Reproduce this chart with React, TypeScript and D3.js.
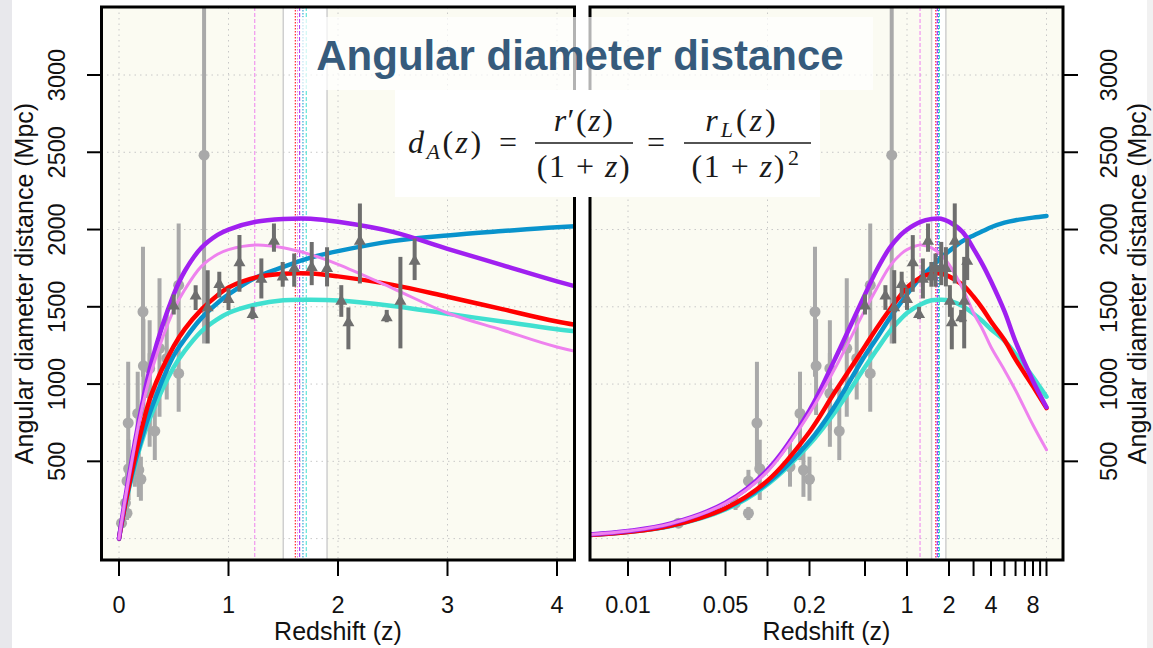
import React from 'react';
import * as d3 from 'd3';

const W = 1153;
const H = 648;

// ---- model curves ----
const zGrid = [0, 0.005, 0.01, 0.02, 0.05, 0.1, 0.2, 0.3, 0.5, 0.6, 0.75, 0.9, 1, 1.25, 1.5, 1.75, 2, 2.5, 3, 3.5, 4, 5, 6, 8, 10];
const dTurquoise = [0, 22, 43, 80, 188, 350, 610, 810, 1110, 1215, 1340, 1420, 1460, 1515, 1542, 1545, 1540, 1505, 1455, 1405, 1355, 1280, 1195, 1045, 918];
const dBlue = [0, 24, 45, 83, 195, 360, 630, 850, 1185, 1290, 1425, 1525, 1580, 1690, 1758, 1818, 1860, 1925, 1962, 1990, 2015, 2045, 2060, 2077, 2088];
const dRed = [0, 22, 42, 82, 197, 375, 690, 940, 1245, 1355, 1480, 1575, 1625, 1690, 1714, 1716, 1697, 1642, 1565, 1485, 1405, 1285, 1160, 985, 845];
const dPurple = [0, 25, 49, 96, 232, 445, 830, 1150, 1580, 1730, 1880, 1965, 2000, 2050, 2068, 2070, 2050, 1985, 1875, 1770, 1665, 1470, 1275, 1020, 850];
const dViolet = [0, 25, 49, 95, 228, 435, 810, 1090, 1480, 1610, 1760, 1840, 1870, 1900, 1882, 1838, 1775, 1620, 1460, 1350, 1240, 1090, 960, 735, 575];

// ---- observations: circles ----
const circZ = [0.023, 0.059, 0.073, 0.073, 0.084, 0.088, 0.145, 0.171, 0.181, 0.2, 0.219, 0.223, 0.28, 0.28, 0.327, 0.37, 0.436, 0.545, 0.545, 0.777];
const circD = [100, 230, 164, 372, 748, 452, 465, 810, 444, 384, 1468, 1118, 1101, 940, 696, 1231, 1166, 1640, 1069, 2481];
const circLo = [88, 185, 120, 320, 443, 250, 336, 508, 270, 245, 1047, 800, 594, 700, 508, 788, 900, 1250, 821, 1263];
const circHi = [112, 280, 205, 445, 1144, 640, 640, 1080, 600, 530, 1888, 1420, 1413, 1200, 982, 1684, 1450, 2039, 1306, 3600];

// ---- observations: triangles ----
const triZ = [0.5, 0.7, 0.81, 0.916, 1.0, 1.1, 1.22, 1.3, 1.415, 1.495, 1.6, 1.76, 1.9, 2.03, 2.095, 2.2, 2.445, 2.57, 2.7];
const triD = [1511, 1576, 1500, 1651, 1554, 1791, 1457, 1684, 1931, 1700, 1755, 1760, 1755, 1543, 1403, 1931, 1435, 1543, 1802];
const triLo = [1450, 1480, 1263, 1560, 1480, 1597, 1420, 1554, 1856, 1630, 1630, 1640, 1632, 1435, 1225, 1651, 1400, 1231, 1673];
const triHi = [1580, 1640, 1737, 1727, 1620, 1964, 1500, 1813, 2039, 1790, 1845, 1920, 1886, 1640, 1496, 2169, 1480, 1823, 1942];

// ---- reference lines ----
const bandZ = [1.5, 1.9];
const markZ = [1.24, 1.61, 1.63, 1.65, 1.68, 1.71];
const markColor = ['#ee82ee', '#ff0000', '#ee82ee', '#a020f0', '#0993cc', '#40e0d0'];
const markDash = ['4,2', '1.5,1.5', '1.5,1.5', '4,2', '1.5,1.5', '4,2'];

// ---- axes ----
const yTicks = [500, 1000, 1500, 2000, 2500, 3000];
const yGrid = [0, 500, 1000, 1500, 2000, 2500, 3000];
const leftTicks = [0, 1, 2, 3, 4];
const rightTicks = [0.01, 0.02, 0.05, 0.1, 0.2, 0.5, 1, 2, 3, 4, 5, 6, 7, 8, 9, 10];
const rightLabels = ['0.01', '0.05', '0.2', '1', '2', '4', '8'];
const rightGrid = [0.01, 0.1, 1, 10];

const seriesDefs = [
  { key: 'turquoise', values: dTurquoise, color: '#40e0d0', width: 4.5 },
  { key: 'blue', values: dBlue, color: '#0993cc', width: 4.5 },
  { key: 'red', values: dRed, color: '#ff0000', width: 4.5 },
  { key: 'purple', values: dPurple, color: '#a020f0', width: 4.5 },
  { key: 'violet', values: dViolet, color: '#ee82ee', width: 3 },
];

const yScale = d3.scaleLinear().domain([0, 3000]).range([538.6, 75]);
const TOP = 7;
const BOTTOM = 560;
const FONT = '"Liberation Sans", Arial, Helvetica, sans-serif';

type Panel = {
  id: string;
  x0: number;
  x1: number;
  xs: (v: number) => number;
  log: boolean;
};

const panels: Panel[] = [
  { id: 'L', x0: 101.5, x1: 574.5, xs: d3.scaleLinear().domain([0, 4]).range([119, 557]), log: false },
  { id: 'R', x0: 590, x1: 1063, xs: d3.scaleLog().domain([0.01, 1]).range([628, 907]), log: true },
];

function PanelView({ p }: { p: Panel }) {
  const xs = p.xs;
  const pts = (vals: number[]) =>
    zGrid.map((z, i) => ({ z, d: vals[i] })).filter((o) => (p.log ? o.z > 0 : true));
  const line = d3
    .line<{ z: number; d: number }>()
    .x((o) => xs(o.z))
    .y((o) => yScale(o.d))
    .curve(d3.curveCatmullRom.alpha(0.5));
  const xGrid = p.log ? rightGrid : leftTicks;
  const clip = `clip${p.id}`;
  const tri = (cx: number, cy: number) => {
    const s = 6;
    return `M${cx},${cy - s}L${cx + s},${cy + s * 0.75}L${cx - s},${cy + s * 0.75}Z`;
  };
  return (
    <g>
      <defs>
        <clipPath id={clip}>
          <rect x={p.x0} y={TOP} width={p.x1 - p.x0} height={BOTTOM - TOP} />
        </clipPath>
      </defs>
      <rect x={p.x0} y={TOP} width={p.x1 - p.x0} height={BOTTOM - TOP} fill="#fbfbf2" />
      <g clipPath={`url(#${clip})`}>
        <rect x={xs(bandZ[0])} y={TOP} width={xs(bandZ[1]) - xs(bandZ[0])} height={BOTTOM - TOP} fill="#ffffff" />
        <line x1={xs(bandZ[0])} x2={xs(bandZ[0])} y1={TOP} y2={BOTTOM} stroke="#cfcfcf" strokeWidth={1.5} />
        <line x1={xs(bandZ[1])} x2={xs(bandZ[1])} y1={TOP} y2={BOTTOM} stroke="#cfcfcf" strokeWidth={1.5} />
        {yGrid.map((v) => (
          <line key={'gy' + v} x1={p.x0} x2={p.x1} y1={yScale(v)} y2={yScale(v)} stroke="#c8c8c8" strokeWidth={1} strokeDasharray="1.5,4" />
        ))}
        {xGrid.map((v) => (
          <line key={'gx' + v} x1={xs(v)} x2={xs(v)} y1={TOP} y2={BOTTOM} stroke="#c8c8c8" strokeWidth={1} strokeDasharray="1.5,4" />
        ))}
        {markZ.map((z, i) => (
          <line key={'m' + i} x1={xs(z)} x2={xs(z)} y1={TOP} y2={BOTTOM} stroke={markColor[i]} strokeWidth={1} strokeDasharray={markDash[i]} />
        ))}
        {circZ.map((z, i) => (
          <g key={'c' + i}>
            <line x1={xs(z)} x2={xs(z)} y1={yScale(circLo[i])} y2={yScale(circHi[i])} stroke="#a9a9a9" strokeWidth={4} />
            <circle cx={xs(z)} cy={yScale(circD[i])} r={5.5} fill="#a9a9a9" />
          </g>
        ))}
        {seriesDefs.map((s) => (
          <path key={s.key} d={line(pts(s.values)) || ''} fill="none" stroke={s.color} strokeWidth={s.width} strokeLinecap="round" strokeLinejoin="round" />
        ))}
        {triZ.map((z, i) => (
          <g key={'t' + i}>
            <line x1={xs(z)} x2={xs(z)} y1={yScale(triLo[i])} y2={yScale(triHi[i])} stroke="#6e6e6e" strokeWidth={4} />
            <path d={tri(xs(z), yScale(triD[i]))} fill="#6e6e6e" />
          </g>
        ))}
      </g>
      <rect x={p.x0} y={TOP} width={p.x1 - p.x0} height={BOTTOM - TOP} fill="none" stroke="#000" strokeWidth={3} />
      {(p.log ? rightTicks : leftTicks).map((v) => (
        <line key={'xt' + v} x1={xs(v)} x2={xs(v)} y1={BOTTOM} y2={576} stroke="#000" strokeWidth={2} />
      ))}
      {p.log
        ? rightLabels.map((lab) => (
            <text key={'xl' + lab} x={xs(+lab)} y={613} textAnchor="middle" fontFamily={FONT} fontSize={23.5} fill="#111">
              {lab}
            </text>
          ))
        : leftTicks.map((v) => (
            <text key={'xl' + v} x={xs(v)} y={613} textAnchor="middle" fontFamily={FONT} fontSize={23.5} fill="#111">
              {String(v)}
            </text>
          ))}
      <text x={(p.x0 + p.x1) / 2} y={640} textAnchor="middle" fontFamily={FONT} fontSize={25} fill="#111">
        Redshift (z)
      </text>
    </g>
  );
}

function YAxis({ side }: { side: 'left' | 'right' }) {
  const left = side === 'left';
  const edge = left ? 101.5 : 1063;
  const tickEnd = left ? 87 : 1078;
  const labX = left ? 65 : 1117;
  const titleX = left ? 33 : 1146;
  return (
    <g>
      {yTicks.map((v) => (
        <g key={side + v}>
          <line x1={edge} x2={tickEnd} y1={yScale(v)} y2={yScale(v)} stroke="#000" strokeWidth={2} />
          <text transform={`translate(${labX},${yScale(v)}) rotate(-90)`} textAnchor="middle" fontFamily={FONT} fontSize={23.5} fill="#111">
            {String(v)}
          </text>
        </g>
      ))}
      <text transform={`translate(${titleX},${(TOP + BOTTOM) / 2}) rotate(-90)`} textAnchor="middle" fontFamily={FONT} fontSize={25} fill="#111">
        Angular diameter distance (Mpc)
      </text>
    </g>
  );
}

function Formula() {
  const SERIF = '"Liberation Serif", "Times New Roman", serif';
  const fs = 32;
  const sub = 22;
  return (
    <g fontFamily={SERIF} fill="#1a1a1a">
      <rect x={395} y={90} width={425} height={107} fill="#ffffff" />
      <text x={408} y={153} fontSize={fs} letterSpacing={2.5}>
        <tspan fontStyle="italic">d</tspan>
        <tspan fontStyle="italic" fontSize={sub} dy={6}>A</tspan>
        <tspan dy={-6}>(</tspan>
        <tspan fontStyle="italic">z</tspan>
        <tspan>)</tspan>
      </text>
      <text x={508} y={153} fontSize={fs} textAnchor="middle">=</text>
      <text x={584} y={131} fontSize={fs} textAnchor="middle" letterSpacing={1.5}>
        <tspan fontStyle="italic">r</tspan>
        <tspan>′(</tspan>
        <tspan fontStyle="italic">z</tspan>
        <tspan>)</tspan>
      </text>
      <line x1={535} x2={633} y1={143} y2={143} stroke="#1a1a1a" strokeWidth={1.6} />
      <text x={584} y={177} fontSize={fs} textAnchor="middle" letterSpacing={1.5}>
        <tspan>(1 + </tspan>
        <tspan fontStyle="italic">z</tspan>
        <tspan>)</tspan>
      </text>
      <text x={656} y={153} fontSize={fs} textAnchor="middle">=</text>
      <text x={742} y={131} fontSize={fs} textAnchor="middle" letterSpacing={3}>
        <tspan fontStyle="italic">r</tspan>
        <tspan fontStyle="italic" fontSize={sub} dy={6}>L</tspan>
        <tspan dy={-6}>(</tspan>
        <tspan fontStyle="italic">z</tspan>
        <tspan>)</tspan>
      </text>
      <line x1={684} x2={811} y1={143} y2={143} stroke="#1a1a1a" strokeWidth={1.6} />
      <text x={746} y={177} fontSize={fs} textAnchor="middle" letterSpacing={1.5}>
        <tspan>(1 + </tspan>
        <tspan fontStyle="italic">z</tspan>
        <tspan>)</tspan>
        <tspan fontSize={sub} dy={-12} dx={2}>2</tspan>
      </text>
    </g>
  );
}

export default function App() {
  return (
    <div style={{ position: 'absolute', left: 0, top: 0, width: W, height: H, background: '#ffffff' }}>
      <svg width={W} height={H} viewBox={`0 0 ${W} ${H}`} style={{ display: 'block' }}>
        <rect x={0} y={0} width={W} height={H} fill="#ffffff" />
        <rect x={0} y={0} width={12} height={H} fill="#e8e8ec" />
        <rect x={1147} y={0} width={6} height={H} fill="#f1f1f1" />
        {panels.map((p) => (
          <PanelView key={p.id} p={p} />
        ))}
        <YAxis side="left" />
        <YAxis side="right" />
        <rect x={300} y={17} width={573} height={73} fill="#ffffff" opacity={0.7} />
        <text x={580} y={70} textAnchor="middle" fontFamily={FONT} fontWeight="bold" fontSize={42} fill="#365b7c">
          Angular diameter distance
        </text>
        <Formula />
      </svg>
    </div>
  );
}
